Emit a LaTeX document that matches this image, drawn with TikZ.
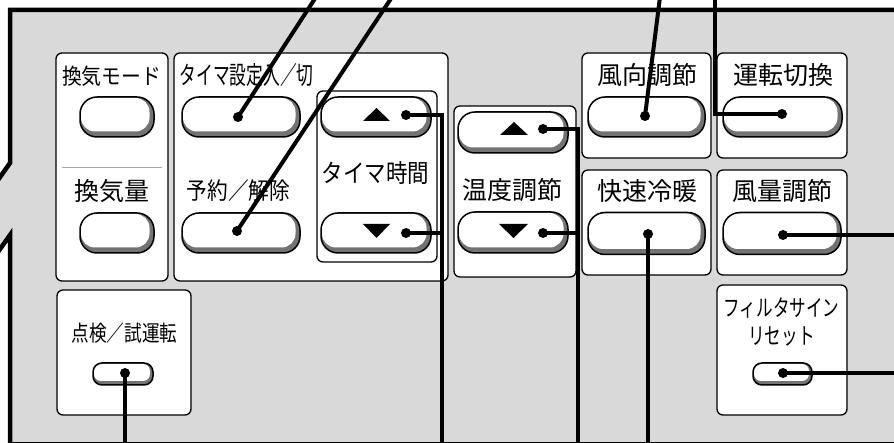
\documentclass[tikz,border=0pt]{standalone}
\usepackage{fontspec}
\newfontfamily\jpfont{Noto Sans CJK JP}
\definecolor{panelbg}{gray}{0.85}
\definecolor{btnshade}{gray}{0.45}
\newcommand{\squeeze}[2]{\scalebox{#1}[1]{#2}}
\newcommand{\jpsize}[1]{\jpfont\fontsize{#1}{#1}\selectfont}
\tikzset{
  frame/.style={line width=4.5pt},
  panel/.style={draw, line width=1.3pt, fill=white, rounded corners=6pt},
  pill/.style={draw, line width=1.5pt, fill=btnshade, inner sep=0pt},
  bigpill/.style n args={2}{pill, minimum width=#1, minimum height=#2, rounded corners=17pt,
    path picture={\fill[white, rounded corners=14pt]
      ([xshift=1pt,yshift=-1pt]path picture bounding box.north west) rectangle
      ([xshift=-4.5pt,yshift=5.5pt]path picture bounding box.south east);}},
  smallpill/.style n args={2}{pill, minimum width=#1, minimum height=#2, rounded corners=9pt,
    path picture={\fill[white, rounded corners=7pt]
      ([xshift=1pt,yshift=-1pt]path picture bounding box.north west) rectangle
      ([xshift=-3pt,yshift=4pt]path picture bounding box.south east);}},
  lbl/.style={inner sep=0pt, font=\jpsize{25}},
  dot/.style={circle, fill=black, inner sep=0pt, minimum size=10pt},
  leader/.style={line width=4pt},
}

\begin{document}
\begin{tikzpicture}[x=1pt, y=-1pt]
  \useasboundingbox (0,0) rectangle (894,443);
  % housing
  \fill[panelbg] (10,10) -- (900,10) -- (900,450) -- (10,450) -- (10,235) -- (-2,252)
    -- (-2,180) -- (10,163) -- cycle;
  \draw[frame] (900,10) -- (10,10) -- (10,163) -- (-2,180);
  \draw[frame] (-2,252) -- (10,235) -- (10,450);
  \draw[line width=1.2pt] (10,442.5) -- (900,442.5);

  % panels
  \draw[panel] (56,53) rectangle (168,281);
  \draw[gray!70, line width=0.8pt] (62,167) -- (162,167);
  \draw[panel] (174,53) rectangle (448,281);
  \draw[panel] (317,91) rectangle (437,262);
  \draw[panel] (454,106) rectangle (576,277);
  \draw[panel] (582,53) rectangle (711,158);
  \draw[panel] (717,53) rectangle (847,158);
  \draw[panel] (582,170) rectangle (711,275);
  \draw[panel] (717,170) rectangle (847,275);
  \draw[panel] (717,285) rectangle (847,415);
  \draw[panel] (57,290) rectangle (191,415);

  % labels
  \node[lbl] (lkmode) at (111.5,76) {\jpsize{22}\squeeze{0.9}{換気モード}};
  \node[lbl] (lkvol) at (112,191.5) {換気量};
  \node[lbl] (ltset) at (246.5,75) {\jpsize{25}\squeeze{0.67}{タイマ設定入／切}};
  \node[lbl] (lyoyaku) at (238.5,191) {\jpsize{23.5}\squeeze{0.88}{予約／解除}};
  \node[lbl] (ltime) at (375.5,173.5) {\squeeze{0.86}{タイマ時間}};
  \node[lbl] (ltemp) at (512.5,190) {温度調節};
  \node[lbl] (lfudir) at (647,75) {風向調節};
  \node[lbl] (lunten) at (783,75.5) {運転切換};
  \node[lbl] (lkaisoku) at (647,191.5) {快速冷暖};
  \node[lbl] (lfuvol) at (782.5,191.5) {風量調節};
  \node[lbl] (lfilter) at (781.5,308.5) {\jpsize{23}\squeeze{0.72}{フィルタサイン}};
  \node[lbl] (lreset) at (781.5,336.5) {\jpsize{23}\squeeze{0.72}{リセット}};
  \node[lbl] (ltenken) at (124.5,333) {\jpsize{22}\squeeze{0.8}{点検／試運転}};

  % buttons
  \node[bigpill={74pt}{40pt}] (kmode) at (117,117) {};
  \node[bigpill={74pt}{40pt}] (kvol) at (117,233) {};
  \node[bigpill={118pt}{40pt}] (tset) at (241,117) {};
  \node[bigpill={118pt}{40pt}] (yoyaku) at (241,233) {};
  \node[bigpill={110pt}{40pt}] (tup) at (376,117) {};
  \node[bigpill={110pt}{40pt}] (tdown) at (376,233) {};
  \node[bigpill={110pt}{41pt}] (wup) at (513,132.5) {};
  \node[bigpill={110pt}{41pt}] (wdown) at (513,232.5) {};
  \node[bigpill={117pt}{40pt}] (fudir) at (646.5,117) {};
  \node[bigpill={119pt}{40pt}] (unten) at (782.5,117) {};
  \node[bigpill={117pt}{42pt}] (kaisoku) at (646.5,233.5) {};
  \node[bigpill={118pt}{42pt}] (fuvol) at (782,233.5) {};
  \node[smallpill={59pt}{22pt}] (filter) at (782.5,374) {};
  \node[smallpill={60pt}{22pt}] (tenken) at (123,374) {};

  % arrows on the buttons
  \fill (363,121) -- (390,121) -- (376.5,108) -- cycle;
  \fill (363,224) -- (390,224) -- (376.5,238) -- cycle;
  \fill (500,135) -- (528,135) -- (514,122) -- cycle;
  \fill (499,224) -- (528,224) -- (513.5,238) -- cycle;

  % leader dots
  \node[dot] (tsetdot) at (238,117) {};
  \node[dot] (yoyakudot) at (237,231) {};
  \node[dot] (tupdot) at (406,115) {};
  \node[dot] (tdowndot) at (406,233) {};
  \node[dot] (wupdot) at (543,129) {};
  \node[dot] (wdowndot) at (543,233) {};
  \node[dot] (fudirdot) at (645,116) {};
  \node[dot] (untendot) at (782,114) {};
  \node[dot] (kaisokudot) at (648,234) {};
  \node[dot] (fuvoldot) at (783,235) {};
  \node[dot] (filterdot) at (783,373) {};
  \node[dot] (tenkendot) at (125,373) {};

  % leader ends
  \coordinate (tsetend) at (316,-3);
  \coordinate (yoyakuend) at (392,-3);
  \coordinate (timeend) at (442,450);
  \coordinate (tempend) at (578,450);
  \coordinate (fudirend) at (660,-3);
  \coordinate (untenend) at (715,-3);
  \coordinate (kaisokuend) at (648,450);
  \coordinate (fuvolend) at (900,235);
  \coordinate (filterend) at (900,373);
  \coordinate (tenkenend) at (125,450);

  % leaders
  \draw[leader] (tsetdot.center) -- (tsetend);
  \draw[leader] (yoyakudot.center) -- (yoyakuend);
  \draw[leader] (tupdot.center) -| (timeend);
  \draw[leader] (tdowndot.center) -- (tdowndot.center -| timeend);
  \draw[leader] (wupdot.center) -| (tempend);
  \draw[leader] (wdowndot.center) -- (wdowndot.center -| tempend);
  \draw[leader] (fudirdot.center) -- (fudirend);
  \draw[leader] (untendot.center) -| (untenend);
  \draw[leader] (kaisokudot.center) -- (kaisokuend);
  \draw[leader] (fuvoldot.center) -- (fuvolend);
  \draw[leader] (filterdot.center) -- (filterend);
  \draw[leader] (tenkendot.center) -- (tenkenend);
\end{tikzpicture}
\end{document}
